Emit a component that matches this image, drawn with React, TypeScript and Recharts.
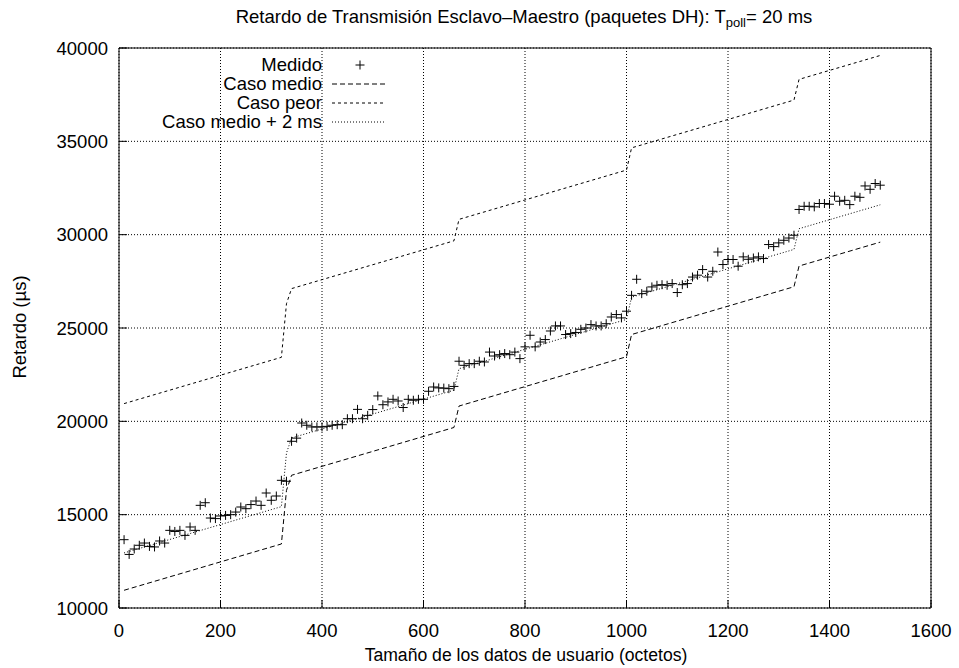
import React from "react";
import {
  ComposedChart,
  Line,
  Scatter,
  XAxis,
  YAxis,
  CartesianGrid,
  Legend,
  Label,
} from "recharts";

const FONT = "'Liberation Sans', Arial, Helvetica, sans-serif";
const FS = 18.5;

// medido: tamaño (octetos) / retardo (us)
const medidoBytes = [
  10, 20, 30, 40, 50, 60, 70, 80, 90, 100,
  110, 120, 130, 140, 150, 160, 170, 180, 190, 200,
  210, 220, 230, 240, 250, 260, 270, 280, 290, 300,
  310, 320, 330, 340, 350, 360, 370, 380, 390, 400,
  410, 420, 430, 440, 450, 460, 470, 480, 490, 500,
  510, 520, 530, 540, 550, 560, 570, 580, 590, 600,
  610, 620, 630, 640, 650, 660, 670, 680, 690, 700,
  710, 720, 730, 740, 750, 760, 770, 780, 790, 800,
  810, 820, 830, 840, 850, 860, 870, 880, 890, 900,
  910, 920, 930, 940, 950, 960, 970, 980, 990, 1000,
  1010, 1020, 1030, 1040, 1050, 1060, 1070, 1080, 1090, 1100,
  1110, 1120, 1130, 1140, 1150, 1160, 1170, 1180, 1190, 1200,
  1210, 1220, 1230, 1240, 1250, 1260, 1270, 1280, 1290, 1300,
  1310, 1320, 1330, 1340, 1350, 1360, 1370, 1380, 1390, 1400,
  1410, 1420, 1430, 1440, 1450, 1460, 1470, 1480, 1490, 1500,
];

const medidoRetardo = [
  13660, 12870, 13160, 13360, 13480, 13300, 13270, 13590, 13480, 14160,
  14100, 14160, 13890, 14340, 14160, 15500, 15640, 14820, 14790, 14930,
  14960, 15000, 15140, 15410, 15320, 15540, 15730, 15500, 16160, 15770,
  16000, 16840, 16790, 18930, 19100, 19910, 19790, 19700, 19700, 19700,
  19730, 19790, 19820, 19820, 20140, 20140, 20640, 20140, 20320, 20630,
  21360, 20890, 21040, 21180, 21090, 20740, 21180, 21130, 21180, 21180,
  21610, 21840, 21790, 21780, 21750, 21870, 23220, 23000, 23090, 23090,
  23220, 23180, 23710, 23500, 23570, 23630, 23570, 23710, 23360, 23990,
  24610, 23990, 24250, 24380, 24840, 25110, 25110, 24650, 24700, 24760,
  24930, 25000, 25180, 25110, 25110, 25230, 25590, 25720, 25540, 25900,
  26750, 27610, 26840, 26970, 27200, 27290, 27320, 27290, 27380, 26900,
  27320, 27380, 27730, 27830, 28130, 27730, 28040, 29070, 28400, 28670,
  28670, 28310, 28810, 28680, 28750, 28810, 28720, 29470, 29360, 29560,
  29700, 29820, 29970, 31350, 31520, 31520, 31490, 31670, 31670, 31630,
  32060, 31790, 31840, 31610, 32060, 32000, 32610, 32430, 32740, 32650,
];

// modelos (puntos de quiebre)
const modeloBytes = [10, 320, 330, 340, 660, 670, 1000, 1010, 1330, 1340, 1500];
const casoMedio = [10950, 13430, 16300, 17110, 19670, 20820, 23460, 24650, 27210, 28320, 29600];
const casoPeor = [20950, 23430, 26300, 27110, 29670, 30820, 33460, 34650, 37210, 38320, 39600];
const casoMedio2ms = [12950, 15430, 18300, 19110, 21670, 22820, 25460, 26650, 29210, 30320, 31600];

const xTicks = [0, 200, 400, 600, 800, 1000, 1200, 1400, 1600];
const yTicks = [10000, 15000, 20000, 25000, 30000, 35000, 40000];

const legendNames = ["Medido", "Caso medio", "Caso peor", "Caso medio + 2 ms"];
const legendDash = ["", "5 3", "3 3", "1 2"];

const medido = medidoBytes.map((x, i) => ({ x, y: medidoRetardo[i] }));
const toLine = (ys: number[]) => modeloBytes.map((x, i) => ({ x, y: ys[i] }));

const Cross = (props: any) => {
  const { cx, cy } = props;
  if (cx == null || cy == null) return null;
  return (
    <g>
      <line x1={cx - 4.5} x2={cx + 4.5} y1={cy} y2={cy} stroke="#000" strokeWidth={1} />
      <line x1={cx} x2={cx} y1={cy - 4.5} y2={cy + 4.5} stroke="#000" strokeWidth={1} />
    </g>
  );
};

const renderLegend = () => (
  <svg width={270} height={85} style={{ fontFamily: FONT, overflow: "visible", display: "block" }}>
    {legendNames.map((name, i) => {
      const base = 21 + i * 19;
      return (
        <g key={name}>
          <text x={192} y={base} textAnchor="end" fontSize={FS} fill="#000">
            {name}
          </text>
          {i === 0 ? (
            <Cross cx={230} cy={base - 6} />
          ) : (
            <line
              x1={202}
              x2={256}
              y1={base - 6}
              y2={base - 6}
              stroke="#000"
              strokeDasharray={legendDash[i]}
            />
          )}
        </g>
      );
    })}
  </svg>
);

const axisTick = { fill: "#000", fontSize: FS, fontFamily: FONT };

export default function App() {
  return (
    <div style={{ position: "absolute", left: 0, top: 0, width: 959, height: 668, background: "#fff" }}>
      <ComposedChart
        width={959}
        height={668}
        margin={{ top: 18, right: 8, bottom: 30, left: 59 }}
        style={{ fontFamily: FONT }}
      >
        <CartesianGrid stroke="#000" strokeDasharray="1 2" strokeWidth={1} />
        <XAxis
          type="number"
          dataKey="x"
          domain={[0, 1600]}
          ticks={xTicks}
          interval={0}
          allowDataOverflow
          height={30}
          tickSize={-8}
          tickMargin={24}
          axisLine={{ stroke: "#000" }}
          tickLine={{ stroke: "#000" }}
          tick={axisTick}
        >
          <Label
            content={() => (
              <text x={526} y={661} textAnchor="middle" fontSize={17.6} fill="#000" fontFamily={FONT}>
                Tamaño de los datos de usuario (octetos)
              </text>
            )}
          />
        </XAxis>
        <XAxis
          xAxisId="top"
          orientation="top"
          type="number"
          dataKey="x"
          domain={[0, 1600]}
          ticks={xTicks}
          interval={0}
          allowDataOverflow
          height={30}
          tickSize={-8}
          axisLine={{ stroke: "#000" }}
          tickLine={{ stroke: "#000" }}
          tick={false}
        >
          <Label
            content={() => (
              <text x={524} y={23} textAnchor="middle" fontSize={18.5} fill="#000" fontFamily={FONT}>
                Retardo de Transmisión Esclavo–Maestro (paquetes DH): T
                <tspan dy={4} fontSize={13}>poll</tspan>
                <tspan dy={-4}>= 20 ms</tspan>
              </text>
            )}
          />
        </XAxis>
        <YAxis
          type="number"
          dataKey="y"
          domain={[10000, 40000]}
          ticks={yTicks}
          interval={0}
          allowDataOverflow
          width={60}
          tickSize={-8}
          tickMargin={19}
          axisLine={{ stroke: "#000" }}
          tickLine={{ stroke: "#000" }}
          tick={axisTick}
        >
          <Label
            content={() => (
              <text
                x={26}
                y={327}
                transform="rotate(-90 26 327)"
                textAnchor="middle"
                fontSize={FS}
                fill="#000"
                fontFamily={FONT}
              >
                Retardo (µs)
              </text>
            )}
          />
        </YAxis>
        <YAxis
          yAxisId="right"
          orientation="right"
          type="number"
          dataKey="y"
          domain={[10000, 40000]}
          ticks={yTicks}
          interval={0}
          allowDataOverflow
          width={20}
          tickSize={-8}
          axisLine={{ stroke: "#000" }}
          tickLine={{ stroke: "#000" }}
          tick={false}
        />
        <Line
          data={toLine(casoMedio)}
          dataKey="y"
          name="Caso medio"
          type="linear"
          stroke="#000"
          strokeWidth={1}
          strokeDasharray="5 3"
          dot={false}
          activeDot={false}
          isAnimationActive={false}
        />
        <Line
          data={toLine(casoPeor)}
          dataKey="y"
          name="Caso peor"
          type="linear"
          stroke="#000"
          strokeWidth={1}
          strokeDasharray="3 3"
          dot={false}
          activeDot={false}
          isAnimationActive={false}
        />
        <Line
          data={toLine(casoMedio2ms)}
          dataKey="y"
          name="Caso medio + 2 ms"
          type="linear"
          stroke="#000"
          strokeWidth={1}
          strokeDasharray="1 2"
          dot={false}
          activeDot={false}
          isAnimationActive={false}
        />
        <Scatter
          data={medido}
          dataKey="y"
          name="Medido"
          shape={<Cross />}
          isAnimationActive={false}
        />
        <Legend
          layout="horizontal"
          verticalAlign="middle"
          align="center"
          wrapperStyle={{ left: 130, top: 50, width: 270, height: 85 }}
          content={renderLegend}
        />
      </ComposedChart>
    </div>
  );
}
